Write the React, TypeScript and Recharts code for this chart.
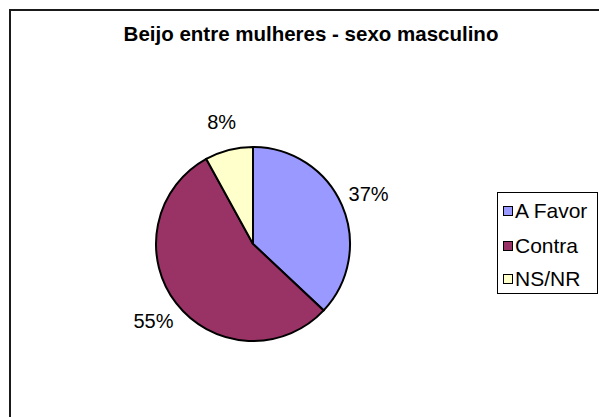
import React from "react";
import { PieChart, Pie, Cell, Legend } from "recharts";

const categories = ["A Favor", "Contra", "NS/NR"];
const values = [37, 55, 8];
const colors = ["#9999FF", "#993366", "#FFFFCC"];
const title = "Beijo entre mulheres - sexo masculino";

const data = categories.map((name, i) => ({ name, value: values[i] }));

const FONT = "'Liberation Sans', Arial, sans-serif";
const RAD = Math.PI / 180;
const LABEL_SIZE = 20;

const renderLabel = (props: any) => {
  const { cx, cy, midAngle, outerRadius, percent } = props;
  const text = `${Math.round(percent * 100)}%`;
  const r = outerRadius + 29;
  const x = cx + r * Math.cos(-midAngle * RAD);
  const y = cy + r * Math.sin(-midAngle * RAD);
  return (
    <text
      x={x}
      y={y}
      fill="#000"
      textAnchor="middle"
      dominantBaseline="central"
      fontFamily={FONT}
      fontSize={LABEL_SIZE}
    >
      {text}
    </text>
  );
};

const renderLegend = () => (
  <div
    style={{
      border: "1px solid #000",
      background: "#fff",
      width: 101,
      height: 102,
      boxSizing: "border-box",
      paddingTop: 7,
      paddingLeft: 5,
      fontFamily: FONT,
      fontSize: 21,
      color: "#000",
    }}
  >
    {categories.map((c, i) => (
      <div
        key={c}
        style={{
          display: "flex",
          alignItems: "center",
          height: 22,
          lineHeight: "22px",
          marginBottom: i === 0 ? 13 : 11,
          whiteSpace: "nowrap",
        }}
      >
        <span
          style={{
            display: "inline-block",
            width: 8,
            height: 8,
            border: "1px solid #000",
            background: colors[i],
            marginRight: 2,
            flexShrink: 0,
          }}
        />
        <span>{c}</span>
      </div>
    ))}
  </div>
);

export default function App() {
  return (
    <div style={{ position: "absolute", left: 0, top: 0, width: 599, height: 417, background: "#fff", overflow: "hidden" }}>
      <div
        style={{
          position: "absolute",
          left: 9,
          top: 9,
          width: 588,
          height: 406,
          borderLeft: "2px solid #1a1a1a",
          borderTop: "2px solid #1a1a1a",
        }}
      />
      <div
        style={{
          position: "absolute",
          left: 311,
          top: 23,
          transform: "translateX(-50%)",
          whiteSpace: "nowrap",
          fontFamily: FONT,
          fontWeight: "bold",
          fontSize: 20.5,
          lineHeight: "22px",
          color: "#000",
        }}
      >
        {title}
      </div>
      <div style={{ position: "absolute", left: 0, top: 0 }}>
        <PieChart width={599} height={417} margin={{ top: 0, right: 0, bottom: 0, left: 0 }}>
          <Pie
            data={data}
            dataKey="value"
            nameKey="name"
            cx={253}
            cy={244}
            outerRadius={97}
            startAngle={90}
            endAngle={-270}
            stroke="#000"
            strokeWidth={2}
            label={renderLabel}
            labelLine={false}
            isAnimationActive={false}
          >
            {data.map((d, i) => (
              <Cell key={d.name} fill={colors[i]} />
            ))}
          </Pie>
          <Legend
            content={renderLegend}
            wrapperStyle={{ position: "absolute", left: 497, top: 192, width: 101, height: 102 }}
          />
        </PieChart>
      </div>
    </div>
  );
}
